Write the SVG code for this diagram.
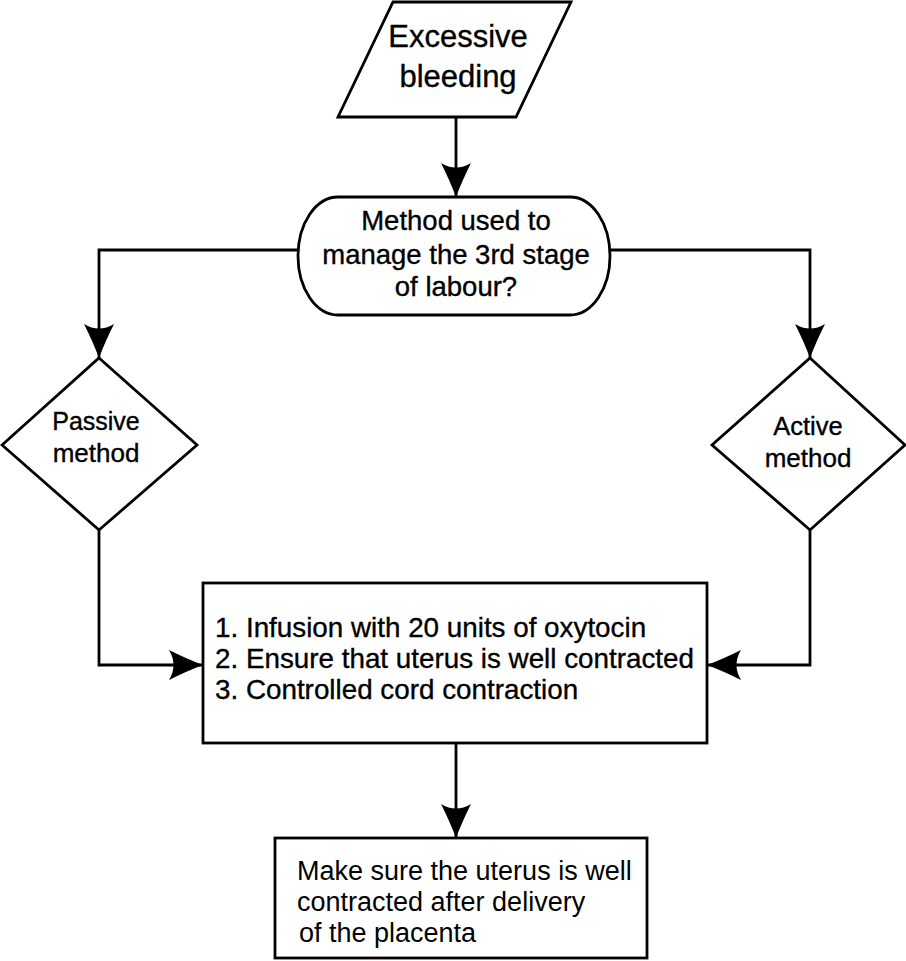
<svg xmlns="http://www.w3.org/2000/svg" width="906" height="961" viewBox="0 0 906 961">
<defs>
<style>
.shape{fill:#fff;stroke:#000;stroke-width:2.8}
.conn{fill:none;stroke:#000;stroke-width:2.8}
.t{font-family:"Liberation Sans",Arial,sans-serif;fill:#000;text-anchor:middle;stroke:#000;stroke-width:0.35}
.tl{font-family:"Liberation Sans",Arial,sans-serif;fill:#000}
.heavy{stroke:#000;stroke-width:0.35}
</style>
<marker id="arr" viewBox="0 0 34 30" refX="34" refY="15" markerWidth="34" markerHeight="30" markerUnits="userSpaceOnUse" orient="auto">
<path d="M34,15 Q18,9 0,0 Q9,15 0,30 Q18,21 34,15 Z" fill="#000"/>
</marker>
</defs>
<rect width="906" height="961" fill="#fff"/>
<g id="connectors">
<path class="conn" d="M456,117 L456,197" marker-end="url(#arr)"/>
<path class="conn" d="M298,250 L99,250 L99,358" marker-end="url(#arr)"/>
<path class="conn" d="M610,250 L810,250 L810,358" marker-end="url(#arr)"/>
<path class="conn" d="M99,530 L99,665 L203,665" marker-end="url(#arr)"/>
<path class="conn" d="M810,530 L810,665 L707,665" marker-end="url(#arr)"/>
<path class="conn" d="M456,743 L456,838" marker-end="url(#arr)"/>
</g>
<g id="start">
<polygon class="shape" points="393,2 571,2 516,117 338,117"/>
<text class="t" x="458" y="47" font-size="31">Excessive</text>
<text class="t" x="458" y="87" font-size="31">bleeding</text>
</g>
<g id="decision">
<rect class="shape" x="298" y="197" width="312" height="118" rx="40" ry="59"/>
<text class="t" x="456" y="230" font-size="27.5">Method used to</text>
<text class="t" x="456" y="264" font-size="27.5">manage the 3rd stage</text>
<text class="t" x="456" y="296" font-size="27.5">of labour?</text>
</g>
<g id="passive">
<polygon class="shape" points="99,358 197,445 99,530 2,445"/>
<text class="t" x="96" y="430" font-size="25">Passive</text>
<text class="t" x="96" y="462" font-size="26">method</text>
</g>
<g id="active">
<polygon class="shape" points="810,358 905,445 810,530 712,445"/>
<text class="t" x="808" y="435" font-size="25.5">Active</text>
<text class="t" x="808" y="467" font-size="26">method</text>
</g>
<g id="steps">
<rect class="shape" x="203" y="583" width="504" height="160"/>
<text class="tl heavy" x="215" y="637" font-size="27.8">1. Infusion with 20 units of oxytocin</text>
<text class="tl heavy" x="215" y="668" font-size="27.8">2. Ensure that uterus is well contracted</text>
<text class="tl heavy" x="215" y="699" font-size="27.8">3. Controlled cord contraction</text>
</g>
<g id="final">
<rect class="shape" x="275" y="838" width="372" height="120"/>
<text class="tl" x="297" y="880" font-size="27">Make sure the uterus is well</text>
<text class="tl" x="297" y="911" font-size="27">contracted after delivery</text>
<text class="tl" x="299" y="942" font-size="27">of the placenta</text>
</g>
</svg>
